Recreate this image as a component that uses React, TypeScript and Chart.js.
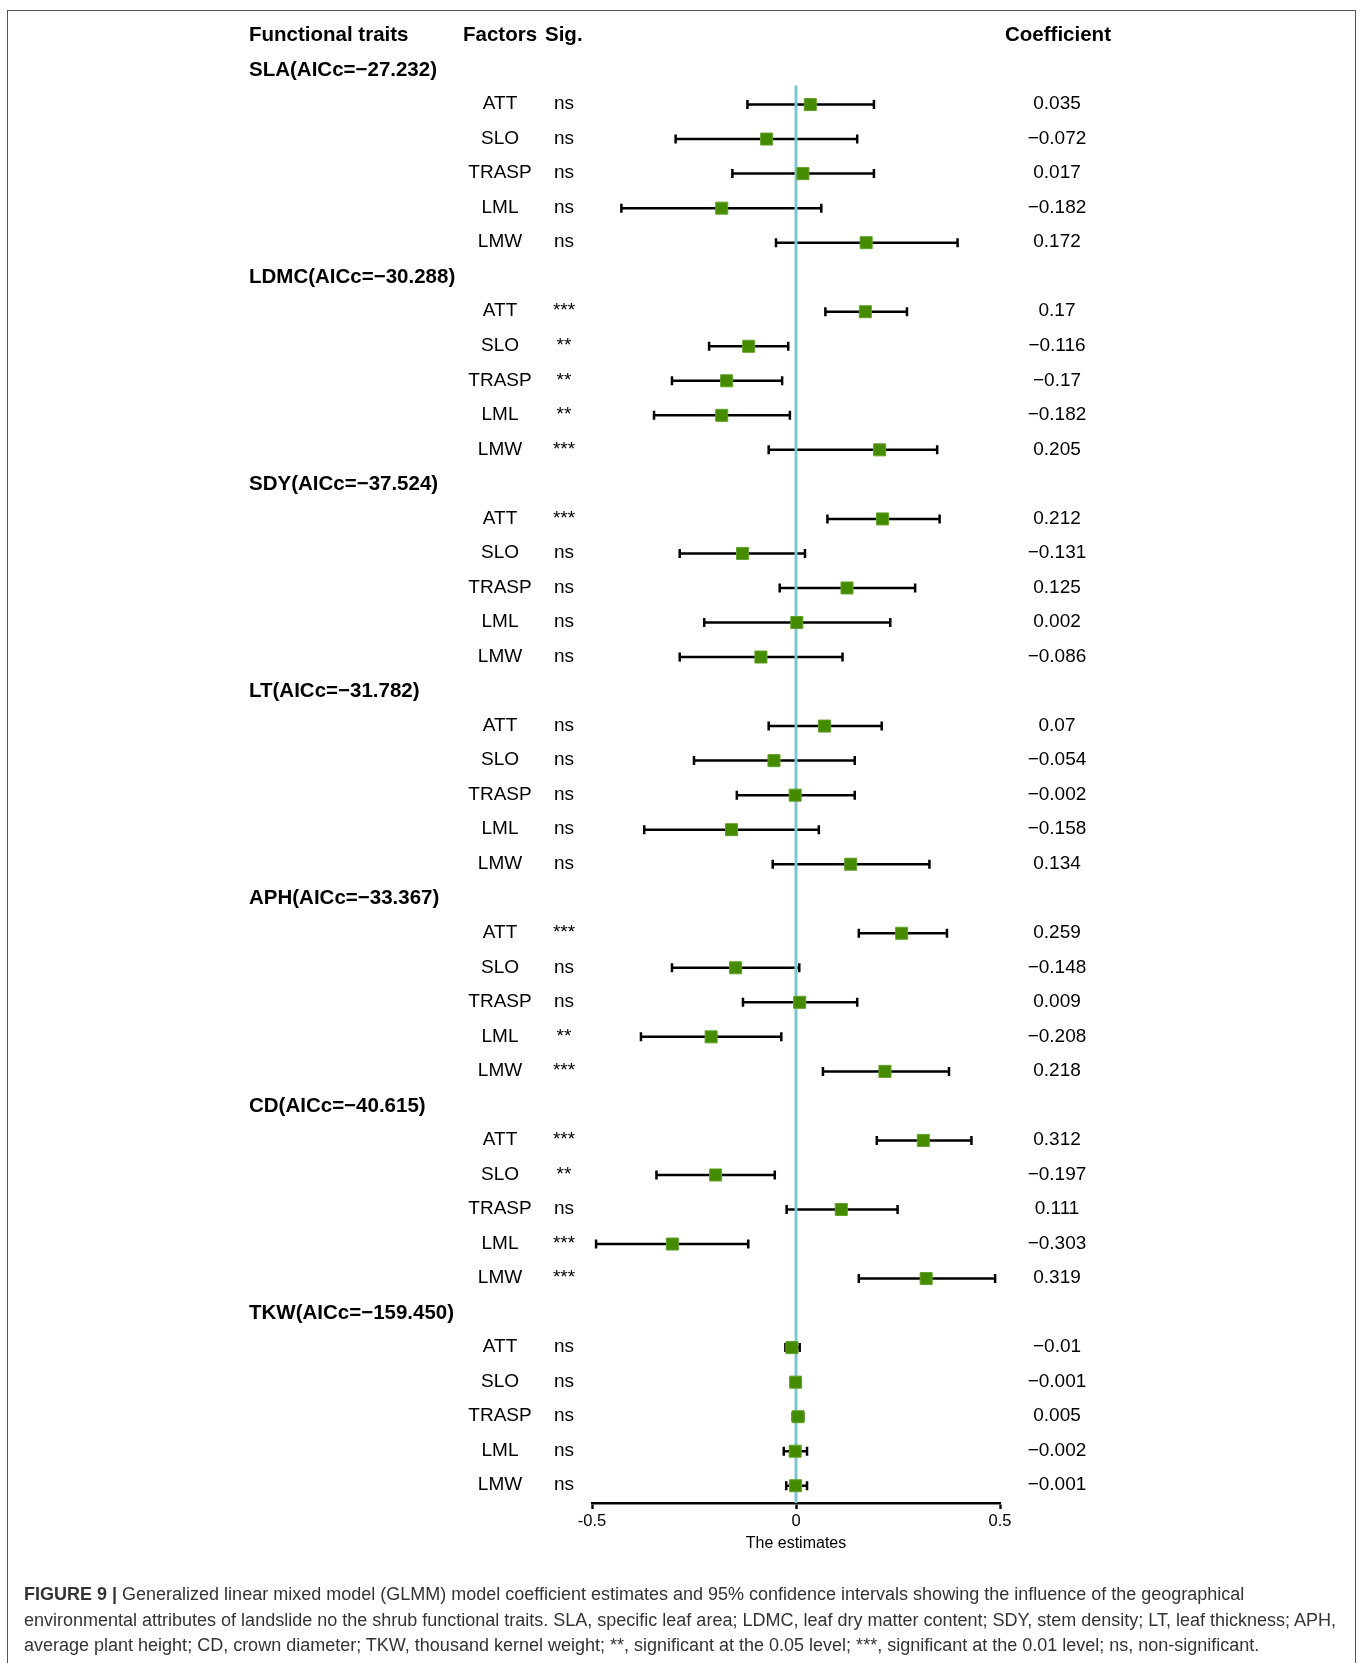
import React, { useEffect, useRef } from 'react';
import { Chart, registerables } from 'chart.js';

Chart.register(...registerables);

// ---------- data ----------
const traits = ['SLA', 'LDMC', 'SDY', 'LT', 'APH', 'CD', 'TKW'];
const aicc = ['−27.232', '−30.288', '−37.524', '−31.782', '−33.367', '−40.615', '−159.450'];
const factors = ['ATT', 'SLO', 'TRASP', 'LML', 'LMW'];

const coefficients: number[][] = [
  [0.035, -0.072, 0.017, -0.182, 0.172],
  [0.17, -0.116, -0.17, -0.182, 0.205],
  [0.212, -0.131, 0.125, 0.002, -0.086],
  [0.07, -0.054, -0.002, -0.158, 0.134],
  [0.259, -0.148, 0.009, -0.208, 0.218],
  [0.312, -0.197, 0.111, -0.303, 0.319],
  [-0.01, -0.001, 0.005, -0.002, -0.001],
];

const lowerCI: number[][] = [
  [-0.119, -0.295, -0.156, -0.428, -0.049],
  [0.072, -0.213, -0.304, -0.348, -0.067],
  [0.077, -0.285, -0.04, -0.225, -0.285],
  [-0.067, -0.25, -0.145, -0.372, -0.057],
  [0.154, -0.304, -0.13, -0.38, 0.066],
  [0.198, -0.342, -0.023, -0.49, 0.154],
  [-0.026, -0.012, -0.008, -0.03, -0.024],
];

const upperCI: number[][] = [
  [0.191, 0.15, 0.191, 0.062, 0.396],
  [0.272, -0.019, -0.034, -0.015, 0.346],
  [0.352, 0.022, 0.292, 0.231, 0.114],
  [0.21, 0.144, 0.144, 0.056, 0.327],
  [0.37, 0.008, 0.15, -0.036, 0.375],
  [0.43, -0.052, 0.249, -0.117, 0.488],
  [0.009, 0.01, 0.018, 0.027, 0.027],
];

const significance: string[][] = [
  ['ns', 'ns', 'ns', 'ns', 'ns'],
  ['***', '**', '**', '**', '***'],
  ['***', 'ns', 'ns', 'ns', 'ns'],
  ['ns', 'ns', 'ns', 'ns', 'ns'],
  ['***', 'ns', 'ns', '**', '***'],
  ['***', '**', 'ns', '***', '***'],
  ['ns', 'ns', 'ns', 'ns', 'ns'],
];

const xTickValues = [-0.5, 0, 0.5];
const xTickLabels = ['-0.5', '0', '0.5'];

// ---------- helpers ----------
const FONT = '"Liberation Sans", Arial, Helvetica, sans-serif';
const headerRow = (g: number) => 1 + 6 * g;
const factorRow = (g: number, f: number) => 2 + 6 * g + f;
const fmt = (v: number) => String(v).replace('-', '−');

const points: { x: number; y: number; g: number; f: number }[] = [];
traits.forEach((_, g) =>
  factors.forEach((__, f) => points.push({ x: coefficients[g][f], y: factorRow(g, f), g, f }))
);

const errorBarPlugin = {
  id: 'errorBars',
  beforeDatasetsDraw(chart: any) {
    const { ctx } = chart;
    const xs = chart.scales.x;
    const ys = chart.scales.y;
    ctx.save();
    ctx.strokeStyle = '#000';
    ctx.lineWidth = 2.5;
    ctx.lineCap = 'butt';
    points.forEach((p) => {
      const x1 = xs.getPixelForValue(lowerCI[p.g][p.f]);
      const x2 = xs.getPixelForValue(upperCI[p.g][p.f]);
      const yy = ys.getPixelForValue(p.y);
      ctx.beginPath();
      ctx.moveTo(x1, yy);
      ctx.lineTo(x2, yy);
      ctx.moveTo(x1, yy - 4.5);
      ctx.lineTo(x1, yy + 4.5);
      ctx.moveTo(x2, yy - 4.5);
      ctx.lineTo(x2, yy + 4.5);
      ctx.stroke();
    });
    ctx.restore();
  },
};

const textPlugin = {
  id: 'forestText',
  afterDraw(chart: any) {
    const { ctx } = chart;
    const ys = chart.scales.y;
    ctx.save();
    ctx.fillStyle = '#000';
    ctx.textBaseline = 'middle';

    const y0 = ys.getPixelForValue(0);
    ctx.font = `bold 20.5px ${FONT}`;
    ctx.textAlign = 'left';
    ctx.fillText('Functional traits', 249, y0);
    ctx.fillText('Factors', 463, y0);
    ctx.fillText('Sig.', 545, y0);
    ctx.textAlign = 'center';
    ctx.fillText('Coefficient', 1058, y0);

    traits.forEach((t, g) => {
      ctx.font = `bold 20.5px ${FONT}`;
      ctx.textAlign = 'left';
      ctx.fillText(`${t}(AICc=${aicc[g]})`, 249, ys.getPixelForValue(headerRow(g)));
      factors.forEach((fac, f) => {
        const yy = ys.getPixelForValue(factorRow(g, f)) - 0.5;
        ctx.font = `19px ${FONT}`;
        ctx.textAlign = 'center';
        ctx.fillText(fac, 500, yy);
        ctx.fillText(significance[g][f], 564, yy);
        ctx.fillText(fmt(coefficients[g][f]), 1057, yy);
      });
    });
    ctx.restore();
  },
};

export default function App() {
  const ref = useRef<HTMLCanvasElement | null>(null);

  useEffect(() => {
    if (!ref.current) return;
    const chart = new Chart(ref.current, {
      type: 'scatter',
      data: {
        datasets: [
          {
            label: 'Estimates',
            data: points.map((p) => ({ x: p.x, y: p.y })),
            pointStyle: 'rect',
            pointRadius: 8.5,
            pointHoverRadius: 8.5,
            backgroundColor: '#458B00',
            borderColor: '#62a22a',
            borderWidth: 1,
            order: 0,
          },
          {
            type: 'line',
            label: 'zero',
            data: [
              { x: 0, y: 1.45 },
              { x: 0, y: 42.5 },
            ],
            borderColor: '#7cc5cf',
            borderWidth: 3,
            pointRadius: 0,
            showLine: true,
            order: 1,
          } as any,
        ],
      },
      options: {
        responsive: false,
        animation: false,
        devicePixelRatio: 1,
        layout: { padding: { left: 592, right: 363, top: 35.5, bottom: 110 } },
        plugins: { legend: { display: false }, tooltip: { enabled: false }, title: { display: false } },
        scales: {
          x: {
            type: 'linear',
            min: -0.5,
            max: 0.5,
            afterBuildTicks: (scale: any) => {
              scale.ticks = xTickValues.map((v) => ({ value: v }));
            },
            afterFit: (scale: any) => {
              scale.height = 50;
            },
            grid: {
              display: true,
              drawOnChartArea: false,
              drawTicks: true,
              tickLength: 6,
              tickWidth: 2.4,
              tickColor: '#000',
            },
            border: { display: true, color: '#000', width: 2.6 },
            ticks: {
              color: '#000',
              padding: 3,
              font: { size: 16.5, family: FONT },
              callback: (v: any) => xTickLabels[xTickValues.indexOf(Number(v))] ?? String(v),
            },
            title: {
              display: true,
              text: 'The estimates',
              color: '#000',
              font: { size: 16, family: FONT },
              padding: { top: 1, bottom: 0 },
            },
          },
          y: {
            type: 'linear',
            display: false,
            reverse: true,
            min: 0,
            max: 42.5,
          },
        },
      },
      plugins: [errorBarPlugin, textPlugin],
    });
    return () => chart.destroy();
  }, []);

  return (
    <div style={{ position: 'absolute', left: 0, top: 0, width: 1363, height: 1663, overflow: 'hidden', background: '#fff' }}>
      <canvas ref={ref} width={1363} height={1663} style={{ position: 'absolute', left: 0, top: 0, width: 1363, height: 1663 }} />
      <div
        style={{
          position: 'absolute',
          left: 7,
          top: 10,
          width: 1349,
          height: 1653,
          boxSizing: 'border-box',
          border: '1.5px solid #555',
          borderBottom: 'none',
          pointerEvents: 'none',
        }}
      />
      <div
        style={{
          position: 'absolute',
          left: 24,
          top: 1582,
          width: 1320,
          fontFamily: FONT,
          fontSize: 18,
          lineHeight: '25.5px',
          color: '#333',
          whiteSpace: 'nowrap',
        }}
      >
        <b>FIGURE 9 |</b> Generalized linear mixed model (GLMM) model coefficient estimates and 95% confidence intervals showing the influence of the geographical
        <br />
        environmental attributes of landslide no the shrub functional traits. SLA, specific leaf area; LDMC, leaf dry matter content; SDY, stem density; LT, leaf thickness; APH,
        <br />
        average plant height; CD, crown diameter; TKW, thousand kernel weight; **, significant at the 0.05 level; ***, significant at the 0.01 level; ns, non-significant.
      </div>
    </div>
  );
}
